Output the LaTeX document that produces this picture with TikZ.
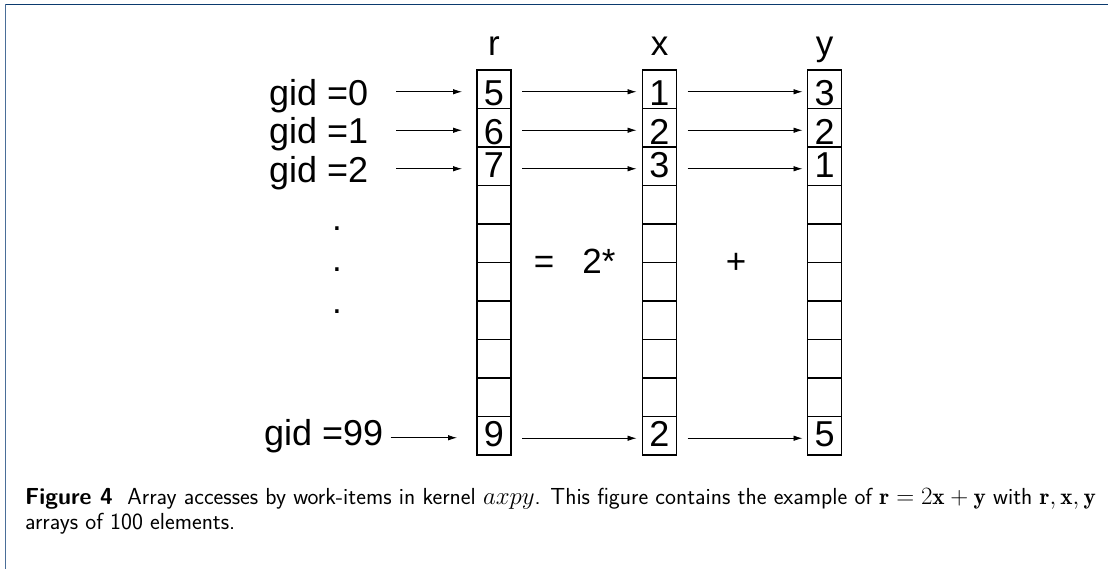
\documentclass[tikz,border=0pt]{standalone}
\usepackage{fontspec}
\newfontfamily\arialf{Liberation Sans}
\usetikzlibrary{arrows.meta,calc}
\definecolor{framenavy}{HTML}{0B3A6E}
\definecolor{frameleft}{HTML}{4A6E98}
\begin{document}
\begin{tikzpicture}[x=1pt,y=-1pt,
  cell/.style={draw=black, line width=1.8pt, minimum width=34pt, minimum height=38.5pt, inner sep=0pt, outer sep=0pt},
  digit/.style={font=\arialf\fontsize{36}{38}\selectfont, inner sep=0pt, anchor=base},
  lbl/.style={font=\arialf\fontsize{36}{40}\selectfont, inner sep=0pt, anchor=base west},
  sym/.style={font=\arialf\fontsize{35}{38}\selectfont, inner sep=0pt, anchor=base},
  arr/.style={-{Latex[length=9pt,width=5.5pt]}, line width=0.8pt, black}]
\useasboundingbox (0,0) rectangle (1108,569);
\fill[white] (0,0) rectangle (1108,569);
% frame
\draw[framenavy, line width=1.2pt] (5,4.3) -- (1108,4.3);
\draw[frameleft, line width=1.5pt] (5.5,4.3) -- (5.5,569);
% columns
\foreach \c/\cx in {r/494, x/659.5, y/824.5}{
  \foreach \i in {0,...,9}{
    \node[cell] (\c\i) at (\cx, 70+38.5*\i+19.25) {};
  }
}
% headers
\node[sym] (hr) at (494,56) {r};
\node[sym] (hx) at (659.5,56) {x};
\node[sym] (hy) at (824.5,56) {y};
% digits
\foreach \c/\cx/\a/\b/\cc/\d in {r/494/5/6/7/9, x/659.5/1/2/3/2, y/824.5/3/2/1/5}{
  \node[digit] at (\cx,105.5) {\a};
  \node[digit] at (\cx,144.5) {\b};
  \node[digit] at (\cx,177.5) {\cc};
  \node[digit] at (\cx,446.5) {\d};
}
% labels
\node[lbl] (g0) at (269,106) {gid =0};
\node[lbl] (g1) at (269,144) {gid =1};
\node[lbl] (g2) at (269,183) {gid =2};
\node[lbl] (g99) at (264,445) {gid =99};
% dots
\node[sym] (d1) at (337,231) {.};
\node[sym] (d2) at (337,272) {.};
\node[sym] (d3) at (337,313) {.};
% operators
\node[sym] (eq) at (544,274) {=};
\node[sym] (two) at (599,274) {2*};
\node[sym] (plus) at (736,273) {+};
% arrows
\foreach \i/\g in {0/g0,1/g1,2/g2}{
  \draw[arr] ($(\g.east |- r\i.west)+(28,2.5)$) -- ($(r\i.west)+(-15,2.5)$);
}
\draw[arr] ($(g99.east |- r9.west)+(7,2)$) -- ($(r9.west)+(-20,2)$);
\foreach \i in {0,1,2,9}{
  \draw[arr] ($(r\i.east)+(11,2.5)$) -- ($(x\i.west)+(-6,2.5)$);
  \draw[arr] ($(x\i.east)+(11,2.5)$) -- ($(y\i.west)+(-5,2.5)$);
}
% caption
\node[anchor=base west, inner sep=0pt, align=left, font=\sffamily\fontsize{23.2}{25}\selectfont] (cap) at (25,529)
 {\textbf{Figure 4}\ \ Array accesses by work-items in kernel $axpy$. This figure contains the example of $\mathbf{r}=2\mathbf{x}+\mathbf{y}$ with $\mathbf{r},\mathbf{x},\mathbf{y}$\\ arrays of 100 elements.};
\end{tikzpicture}
\end{document}
